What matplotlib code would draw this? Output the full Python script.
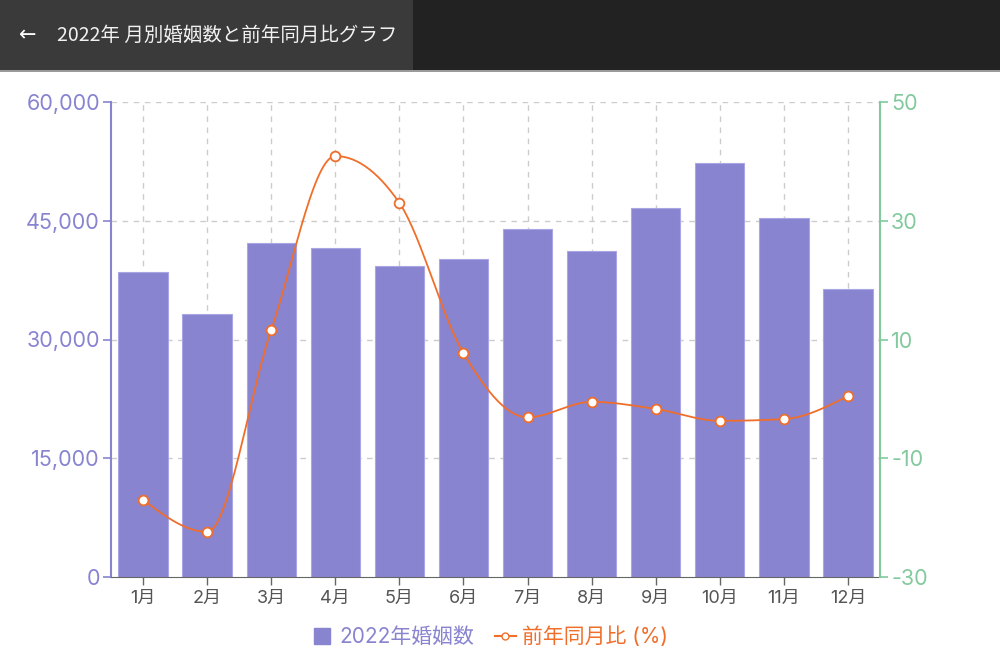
import matplotlib
matplotlib.use("Agg")
import matplotlib.pyplot as plt
from matplotlib.patches import Rectangle
from matplotlib.lines import Line2D
import numpy as np

plt.rcParams['font.family'] = ['Inter', 'Noto Sans CJK JP', 'DejaVu Sans']
plt.rcParams['axes.unicode_minus'] = False

# data
months = ['1月', '2月', '3月', '4月', '5月', '6月', '7月', '8月', '9月', '10月', '11月', '12月']
marriages = [38500, 33200, 42200, 41600, 39300, 40200, 44000, 41200, 46600, 52300, 45300, 36400]
yoy = [-17.0, -22.4, 11.6, 40.9, 33.0, 7.7, -3.1, -0.5, -1.7, -3.7, -3.4, 0.5]
left_ticks = [0, 15000, 30000, 45000, 60000]
right_ticks = [-30, -10, 10, 30, 50]

title = '2022年 月別婚姻数と前年同月比グラフ'
bar_label = '2022年婚姻数'
line_label = '前年同月比 (%)'

c_bar = '#8884d0'
c_line = '#f06e2a'
c_right = '#82ca9d'
c_grid = '#cccccc'


def monotone_x(x, y, n=30):
    # d3 curveMonotoneX style interpolation
    x = np.asarray(x, float)
    y = np.asarray(y, float)
    h = np.diff(x)
    s = np.diff(y) / h
    t = np.zeros(len(x))
    for i in range(1, len(x) - 1):
        p = (s[i - 1] * h[i] + s[i] * h[i - 1]) / (h[i - 1] + h[i])
        t[i] = (np.sign(s[i - 1]) + np.sign(s[i])) * min(abs(s[i - 1]), abs(s[i]), 0.5 * abs(p))
    t[0] = (3 * s[0] - t[1]) / 2
    t[-1] = (3 * s[-1] - t[-2]) / 2
    xs, ys = [], []
    for i in range(len(x) - 1):
        u = np.linspace(0, 1, n, endpoint=False)
        h00 = 2 * u**3 - 3 * u**2 + 1
        h10 = u**3 - 2 * u**2 + u
        h01 = -2 * u**3 + 3 * u**2
        h11 = u**3 - u**2
        xs.append(x[i] + u * h[i])
        ys.append(h00 * y[i] + h10 * h[i] * t[i] + h01 * y[i + 1] + h11 * h[i] * t[i + 1])
    xs.append([x[-1]])
    ys.append([y[-1]])
    return np.concatenate(xs), np.concatenate(ys)


fig = plt.figure(figsize=(10, 6.66), dpi=100)

# header bar
fig.patches.append(Rectangle((0, 1 - 70 / 666), 1, 70 / 666, transform=fig.transFigure,
                             facecolor='#222222', edgecolor='none', zorder=0))
fig.patches.append(Rectangle((0, 1 - 70 / 666), 0.413, 70 / 666, transform=fig.transFigure,
                             facecolor='#3a3a3a', edgecolor='none', zorder=1))
fig.patches.append(Rectangle((0, 1 - 72 / 666), 1, 2 / 666, transform=fig.transFigure,
                             facecolor='#9a9a9a', edgecolor='none', zorder=1))
fig.text(0.028, 1 - 35 / 666, '←', color='white', fontsize=15, va='center', ha='center',
         family=['DejaVu Sans'])
fig.text(0.057, 1 - 35 / 666, title, color='#f2f2f2', fontsize=14, va='center', ha='left',
         family=['Noto Sans CJK JP'])

ax = fig.add_axes([0.111, 89 / 666, 0.769, 475 / 666])
ax2 = ax.twinx()

x = np.arange(len(months))
ax.bar(x, marriages, width=0.77, color=c_bar, edgecolor='#a9a6e6', linewidth=0.8, zorder=2)
ax.set_xlim(-0.5, len(months) - 0.5)
ax.set_ylim(0, 60000)
ax.set_yticks(left_ticks)
ax.set_yticklabels(['{:,}'.format(v) for v in left_ticks])
ax.set_xticks(x)
ax.set_xticklabels(months)

# grid
for v in left_ticks[1:]:
    ax.axhline(v, color=c_grid, linestyle=(0, (4, 4)), linewidth=1, zorder=1)
for xi in x:
    ax.axvline(xi, color=c_grid, linestyle=(0, (4, 4)), linewidth=1, zorder=1)

ax.tick_params(axis='y', colors=c_bar, labelsize=15.5, length=6, width=1.2, pad=2)
ax.tick_params(axis='x', colors='#666666', labelsize=13, length=6, width=1, pad=3)
for lab in ax.get_yticklabels():
    lab.set_color(c_bar)
for lab in ax.get_xticklabels():
    lab.set_color('#555555')

ax.spines['left'].set_color(c_bar)
ax.spines['left'].set_linewidth(1.5)
ax.spines['bottom'].set_color('#666666')
ax.spines['top'].set_visible(False)
ax.spines['right'].set_visible(False)

# line
sx, sy = monotone_x(x, yoy)
ax2.plot(sx, sy, color=c_line, linewidth=1.3, zorder=3)
ax2.plot(x, yoy, linestyle='none', marker='o', markersize=7, markerfacecolor='white',
         markeredgecolor=c_line, markeredgewidth=1.3, zorder=4)
ax2.set_ylim(-30, 50)
ax2.set_yticks(right_ticks)
ax2.tick_params(axis='y', colors=c_right, labelsize=15.5, length=6, width=1.2, pad=2)
for lab in ax2.get_yticklabels():
    lab.set_color(c_right)
ax2.spines['right'].set_color(c_right)
ax2.spines['right'].set_linewidth(1.5)
ax2.spines['left'].set_visible(False)
ax2.spines['top'].set_visible(False)
ax2.spines['bottom'].set_visible(False)

# legend
handles = [
    Line2D([0], [0], marker='s', linestyle='none', markersize=12, markerfacecolor=c_bar,
           markeredgecolor=c_bar),
    Line2D([0], [0], color=c_line, linewidth=1.5, marker='o', markersize=5,
           markerfacecolor='white', markeredgecolor=c_line),
]
leg = fig.legend(handles, [bar_label, line_label], loc='center', bbox_to_anchor=(0.49, 1 - 637 / 666),
                 ncol=2, frameon=False, fontsize=15, handlelength=1.0, handletextpad=0.3,
                 columnspacing=1.0)
leg.get_texts()[0].set_color(c_bar)
leg.get_texts()[1].set_color(c_line)

fig.savefig('out.png', dpi=100, facecolor='white')
